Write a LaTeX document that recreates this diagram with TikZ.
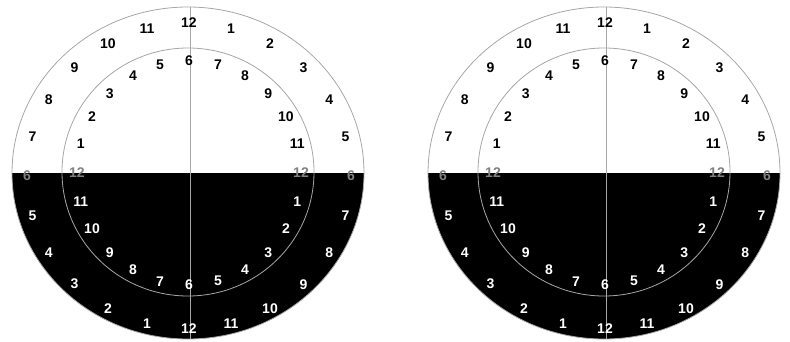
\documentclass[tikz,border=0pt]{standalone}
\usepackage{fontspec}
\setmainfont{Liberation Sans}
\begin{document}
\begin{tikzpicture}[x=1pt,y=1pt,font=\fontsize{14}{16}\selectfont\bfseries]
  \tikzset{ring/.style={gray!70,line width=0.8pt}}
  \useasboundingbox (0,0) rectangle (790,341);
  \foreach \cx/\s in {188/l,604/r}{
    \fill[black] (\cx-176,168) arc[start angle=180,end angle=360,x radius=176,y radius=166] -- cycle;
    \draw[ring] (\cx,168) ellipse[x radius=176,y radius=166];
    \draw[ring] (\cx,169) ellipse[x radius=126,y radius=124];
    \draw[ring] (\cx+2.5,334) -- (\cx+2.5,2);
    \foreach \k in {0,...,23}{
      \pgfmathtruncatemacro\o{mod(\k,12)}
      \pgfmathtruncatemacro\n{mod(\k+6,12)}
      \ifnum\o=0 \def\o{12}\fi
      \ifnum\n=0 \def\n{12}\fi
      \def\tc{black}
      \ifnum\k>6 \ifnum\k<18 \def\tc{white}\fi\fi
      \ifnum\k=6 \def\tc{gray}\fi
      \ifnum\k=18 \def\tc{gray}\fi
      \node[text=\tc] (o\s\k) at ({\cx+1+162*cos(90-15*\k)},{165+153*sin(90-15*\k)}) {\o};
      \node[text=\tc] (i\s\k) at ({\cx+1+112*cos(90-15*\k)},{168+112*sin(90-15*\k)}) {\n};
    }
  }
\end{tikzpicture}
\end{document}
